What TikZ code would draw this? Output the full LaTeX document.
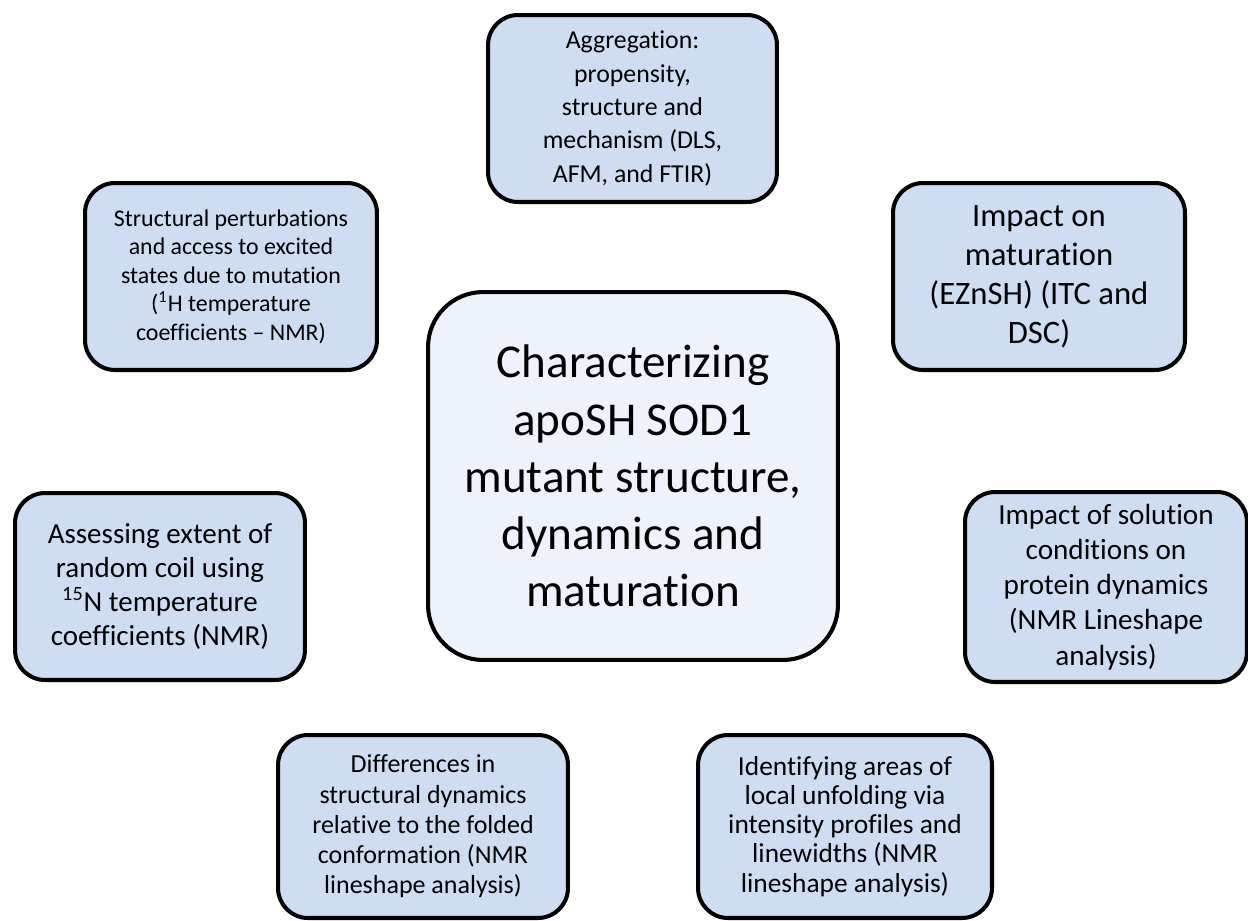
\documentclass[tikz,border=0pt]{standalone}
\usepackage{fontspec}
\setmainfont[Ligatures={TeX,NoCommon}]{Carlito}
\usepackage{tikz}
\usetikzlibrary{positioning}
\definecolor{boxfill}{HTML}{CFDDF2}
\definecolor{hubfill}{HTML}{EEF3FB}
\definecolor{ink}{HTML}{000000}
\newcommand{\fs}[2]{\fontsize{#1}{#2}\selectfont}

\begin{document}
\begin{tikzpicture}[x=0.02cm,y=-0.02cm,
  topic/.style={draw=ink,line width=2.3pt,fill=boxfill,rounded corners=0.6cm,align=center,text=ink,inner sep=2pt},
  hub/.style={topic,fill=hubfill,rounded corners=1.1cm}]
\useasboundingbox (0,0) rectangle (1248,920);
% central theme
\node[hub,minimum width=8.2cm,minimum height=7.36cm,font=\fs{26.8}{32.5}] (center) at (633,476)
  {Characterizing\\apoSH SOD1\\mutant structure,\\dynamics and\\maturation};
% top row
\node[topic,minimum width=5.78cm,minimum height=3.74cm,font=\fs{14.7}{19}] (aggr) at (632.5,108.5)
  {Aggregation:\\propensity,\\structure and\\mechanism (DLS,\\AFM, and FTIR)};
\node[topic,minimum width=5.84cm,minimum height=3.74cm,font=\fs{13.6}{16.2}] (pert) at (231,276.5)
  {Structural perturbations\\and access to excited\\states due to mutation\\(\textsuperscript{1}H temperature\\coefficients -- NMR)};
\node[topic,minimum width=5.84cm,minimum height=3.74cm,font=\fs{18.6}{22.2}] (matur) at (1039,276.5)
  {Impact on\\maturation\\(EZnSH) (ITC and\\DSC)};
% middle row
\node[topic,minimum width=5.8cm,minimum height=3.74cm,font=\fs{16.5}{19.5}] (coil) at (160,586.5)
  {Assessing extent of\\random coil using\\\textsuperscript{15}N temperature\\coefficients (NMR)};
\node[topic,minimum width=5.64cm,minimum height=3.8cm,font=\fs{16.6}{20}] (solut) at (1106,587)
  {Impact of solution\\conditions on\\protein dynamics\\(NMR Lineshape\\analysis)};
% bottom row
\node[topic,minimum width=5.8cm,minimum height=3.66cm,font=\fs{14.8}{17.2}] (diffs) at (423,826.5)
  {Differences in\\structural dynamics\\relative to the folded\\conformation (NMR\\lineshape analysis)};
\node[topic,minimum width=5.88cm,minimum height=3.66cm,font=\fs{15.6}{16.6}] (unfold) at (845,826.5)
  {Identifying areas of\\local unfolding via\\intensity profiles and\\linewidths (NMR\\lineshape analysis)};
\end{tikzpicture}
\end{document}
